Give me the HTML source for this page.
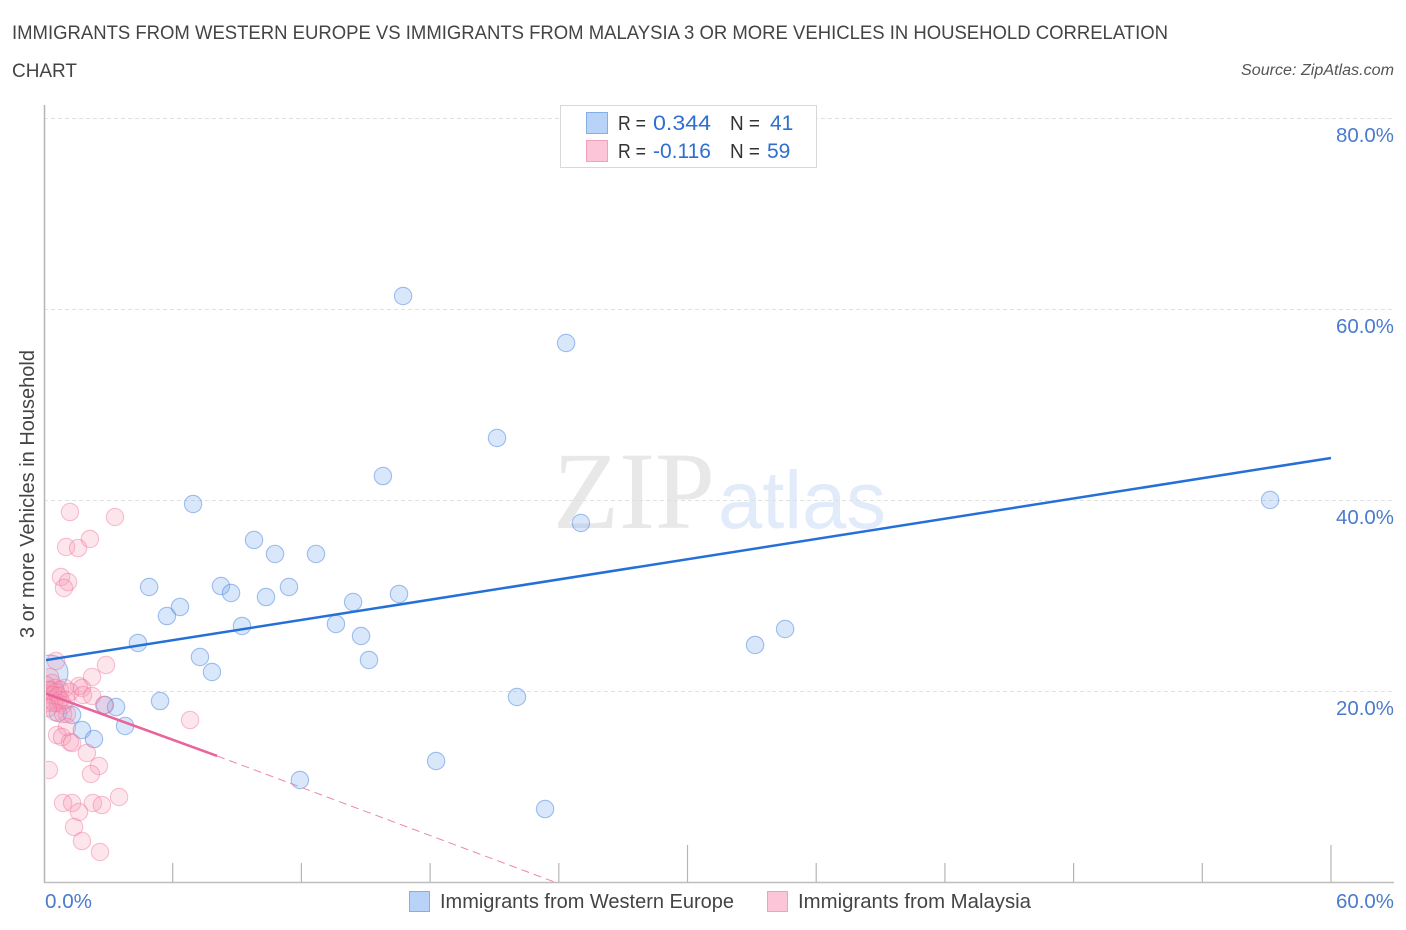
<!DOCTYPE html>
<html>
<head>
<meta charset="utf-8">
<title>Immigrants from Western Europe vs Immigrants from Malaysia correlation chart</title>
<style>
html,body{margin:0;padding:0;background:#fff;width:1406px;height:930px;overflow:hidden}
svg{display:block;font-family:"Liberation Sans",sans-serif}
</style>
</head>
<body>
<svg id="chart" width="1406" height="930" viewBox="0 0 1406 930" xmlns="http://www.w3.org/2000/svg">
<defs><clipPath id="plot-clip"><rect x="46" y="100" width="1360" height="782"/></clipPath></defs>
<text x="12" y="39" font-size="19" fill="#444" textLength="1156" lengthAdjust="spacingAndGlyphs">IMMIGRANTS FROM WESTERN EUROPE VS IMMIGRANTS FROM MALAYSIA 3 OR MORE VEHICLES IN HOUSEHOLD CORRELATION</text>
<text x="12" y="77" font-size="19" fill="#444" textLength="65" lengthAdjust="spacingAndGlyphs">CHART</text>
<text x="1241" y="75" font-size="15.5" font-style="italic" fill="#555" textLength="153" lengthAdjust="spacingAndGlyphs">Source: ZipAtlas.com</text>
<text x="553" y="528" font-size="110" font-family="'Liberation Serif',serif" fill="#e8e8e8" textLength="162" lengthAdjust="spacingAndGlyphs">ZIP</text>
<text x="718" y="528" font-size="82" fill="#e2ebfa" textLength="168" lengthAdjust="spacingAndGlyphs">atlas</text>
<g id="grid"></g>
<g id="axes"></g>
<g id="blue-points" clip-path="url(#plot-clip)"></g>
<g id="pink-points" clip-path="url(#plot-clip)"></g>
<g id="trends" clip-path="url(#plot-clip)"></g>
<text transform="translate(34,494) rotate(-90)" font-size="20" fill="#444" text-anchor="middle" textLength="288" lengthAdjust="spacingAndGlyphs">3 or more Vehicles in Household</text>
<g id="y-labels"></g>
<g id="x-labels"></g>
<g>
<rect x="560.5" y="105.5" width="256" height="62" fill="#fff" stroke="#d8d8d8"/>
<rect x="586.5" y="112.5" width="21" height="21" fill="#b9d2f7" stroke="#85aee8"/>
<rect x="586.5" y="140.5" width="21" height="21" fill="#fcc6d8" stroke="#f2a0bc"/>
<text x="618" y="130" font-size="20" fill="#333" textLength="28" lengthAdjust="spacingAndGlyphs">R =</text>
<text x="653" y="130" font-size="21" fill="#2f6fd0" textLength="58" lengthAdjust="spacingAndGlyphs">0.344</text>
<text x="730" y="130" font-size="20" fill="#333" textLength="30" lengthAdjust="spacingAndGlyphs">N =</text>
<text x="770" y="130" font-size="21" fill="#2f6fd0">41</text>
<text x="618" y="158" font-size="20" fill="#333" textLength="28" lengthAdjust="spacingAndGlyphs">R =</text>
<text x="653" y="158" font-size="21" fill="#2f6fd0" textLength="58" lengthAdjust="spacingAndGlyphs">-0.116</text>
<text x="730" y="158" font-size="20" fill="#333" textLength="30" lengthAdjust="spacingAndGlyphs">N =</text>
<text x="767" y="158" font-size="21" fill="#2f6fd0">59</text>
</g>
<g>
<rect x="409.5" y="891.5" width="20" height="20" fill="#b9d2f7" stroke="#85aee8"/>
<text x="440" y="908" font-size="20" fill="#444" textLength="294" lengthAdjust="spacingAndGlyphs">Immigrants from Western Europe</text>
<rect x="767.5" y="891.5" width="20" height="20" fill="#fcc6d8" stroke="#f2a0bc"/>
<text x="798" y="908" font-size="20" fill="#444" textLength="233" lengthAdjust="spacingAndGlyphs">Immigrants from Malaysia</text>
</g>
</svg>
<script>
const blueX = [16.74,24.34,21.12,15.80,57.16,6.95,25.03,9.79,10.77,12.68,4.90,8.25,8.72,11.42,10.35,16.55,6.34,5.73,14.41,9.23,13.61,14.78,4.38,33.15,34.55,7.27,15.15,7.83,22.05,5.41,2.84,3.36,3.78,1.77,2.33,18.28,11.93,23.36,0.65,1.31,0.28];
const blueY = [61.36,56.44,46.49,42.51,40.00,39.58,37.59,35.81,34.35,34.35,30.89,30.99,30.26,30.89,29.84,30.16,28.80,27.85,29.32,26.81,27.02,25.76,25.03,24.82,26.49,23.56,23.25,21.99,19.37,18.95,18.53,18.32,16.34,15.92,14.97,12.67,10.68,7.64,17.70,17.49,21.88];
const pinkX = [1.21,3.31,1.03,1.59,2.14,0.79,1.12,0.93,0.56,2.89,2.24,0.28,0.37,1.63,1.77,0.98,0.51,0.75,0.19,0.23,0.56,1.21,1.82,2.24,0.37,0.65,0.14,0.89,2.80,1.07,0.51,0.89,6.81,1.07,0.61,0.84,1.21,1.31,2.00,2.56,0.23,2.19,3.50,0.89,1.31,2.28,2.70,1.63,1.40,1.77,2.61,0.09,0.28,0.42,0.65,0.47,0.75,0.19,1.03];
const pinkY = [38.74,38.22,35.08,34.97,35.92,31.94,31.41,30.79,23.14,22.72,21.47,21.47,20.84,20.52,20.31,20.31,20.31,20.10,20.10,19.58,19.90,19.90,19.58,19.48,19.06,18.74,18.74,18.53,18.53,17.59,17.80,17.59,16.96,16.23,15.39,15.18,14.66,14.55,13.51,12.15,11.73,11.31,8.90,8.27,8.27,8.27,8.06,7.33,5.76,4.29,3.14,20.63,20.10,19.58,19.48,18.74,19.06,18.22,19.06];
const blueTrendX = [0,60];
const blueTrendY = [23.2,44.4];
const pinkSolidX = [0,8.07];
const pinkSolidY = [19.8,13.2];
const pinkDashX = [8.07,23.8];
const pinkDashY = [13.2,0];
const yGridValues = [20,40,60,80];
const yTickLabels = ["20.0%","40.0%","60.0%","80.0%"];
const xTickValues = [0,6,12,18,24,30,36,42,48,54,60];
const xEdgeValues = [0,60];
const xEdgeLabels = ["0.0%","60.0%"];
const largeBluePointIndex = 40;

const NS = "http://www.w3.org/2000/svg";
function xScale(v){ return 44 + v * 1287 / 60; }
function yScale(v){ return 882 - v * 955 / 100; }
function mk(tag, parentId, attrs){
  const el = document.createElementNS(NS, tag);
  for (const k in attrs) el.setAttribute(k, attrs[k]);
  document.getElementById(parentId).appendChild(el);
  return el;
}

yGridValues.forEach(function(v, i){
  const g = mk("line", "grid", {x1:44, x2:1394, y1:yScale(v) + 0.5, y2:yScale(v) + 0.5, stroke:"#e0e0e0", "stroke-width":1, "stroke-dasharray":"4 3"});
  
  
  const t = mk("text", "y-labels", {x:1394, y:yScale(v) + 24, "font-size":20, fill:"#4a7bcc", "text-anchor":"end", textLength:58, lengthAdjust:"spacingAndGlyphs"});
  t.textContent = yTickLabels[i];
  
  
});

const yAxis = mk("line", "axes", {x1:44.5, x2:44.5, y1:105, y2:883, stroke:"#b5b5b5", "stroke-width":1.5});


const xAxis = mk("line", "axes", {x1:44, x2:1394, y1:882.5, y2:882.5, stroke:"#bdbdbd", "stroke-width":1.5});


xTickValues.forEach(function(v){
  if (v === 0) return;
  const tall = v % 30 === 0;
  const tick = mk("line", "axes", {x1:xScale(v), x2:xScale(v), y1:tall ? 845 : 863, y2:882, stroke:"#b5b5b5", "stroke-width":1.2});
  
  
});
xEdgeValues.forEach(function(v, i){
  const t = mk("text", "x-labels", {x:i === 0 ? 45 : 1336, y:908, "font-size":20, fill:"#4a7bcc", textLength:i === 0 ? 47 : 58, lengthAdjust:"spacingAndGlyphs"});
  t.textContent = xEdgeLabels[i];
  
  
});

blueX.forEach(function(v, i){
  const c = mk("circle", "blue-points", {cx:xScale(v), cy:yScale(blueY[i]), r:i === largeBluePointIndex ? 18 : 8.7, fill:"rgba(130,175,240,0.3)", stroke:"rgba(60,120,220,0.45)", "stroke-width":1.1});
  
  
});
pinkX.forEach(function(v, i){
  const c = mk("circle", "pink-points", {cx:xScale(v), cy:yScale(pinkY[i]), r:8.7, fill:"rgba(248,150,180,0.25)", stroke:"rgba(238,110,155,0.42)", "stroke-width":1.1});
  
  
});

const blueLine = mk("line", "trends", {x1:xScale(blueTrendX[0]), y1:yScale(blueTrendY[0]), x2:xScale(blueTrendX[1]), y2:yScale(blueTrendY[1]), stroke:"#2470d8", "stroke-width":2.5});


const pinkLine = mk("line", "trends", {x1:xScale(pinkSolidX[0]), y1:yScale(pinkSolidY[0]), x2:xScale(pinkSolidX[1]), y2:yScale(pinkSolidY[1]), stroke:"#e8649a", "stroke-width":2.5});


const pinkDash = mk("line", "trends", {x1:xScale(pinkDashX[0]), y1:yScale(pinkDashY[0]), x2:xScale(pinkDashX[1]), y2:yScale(pinkDashY[1]), stroke:"#ec85ac", "stroke-width":1, "stroke-dasharray":"8 5"});


</script>
</body>
</html>
